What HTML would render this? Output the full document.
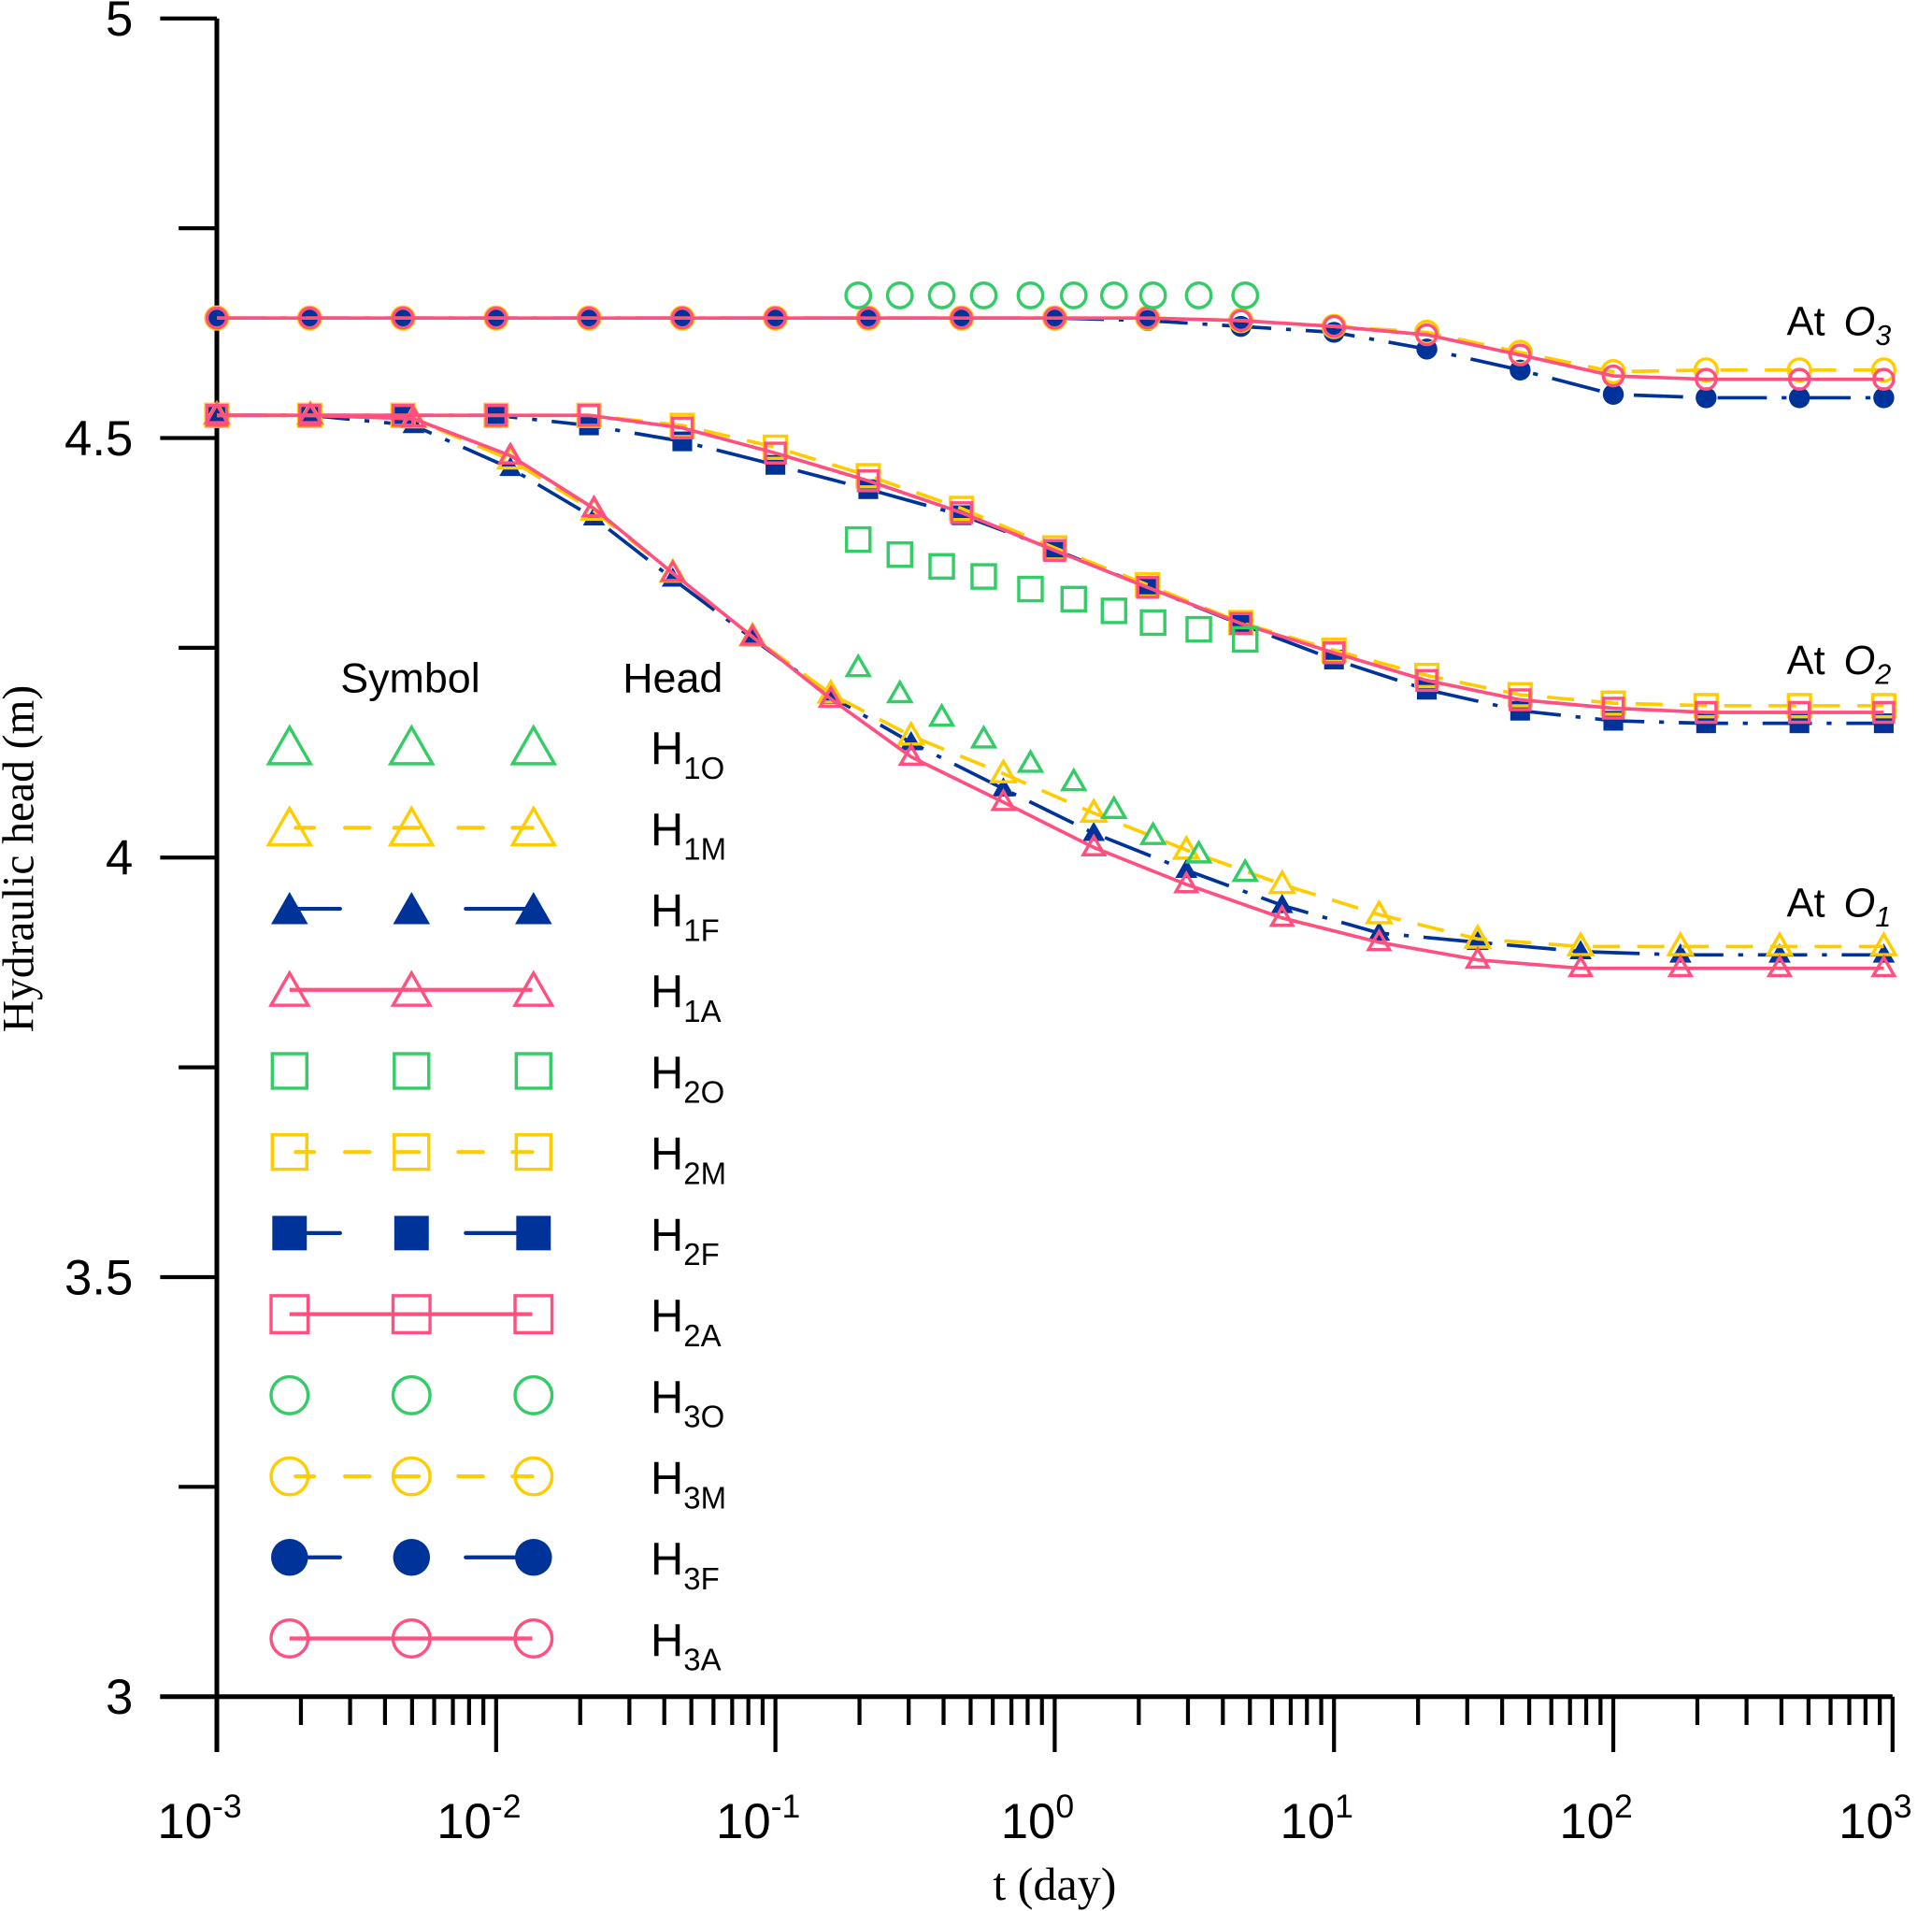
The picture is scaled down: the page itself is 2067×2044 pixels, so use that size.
<!DOCTYPE html>
<html><head><meta charset="utf-8"><style>
html,body{margin:0;padding:0;background:#fff}
svg{display:block}
text{font-family:"Liberation Sans",sans-serif}
text.serif{font-family:"Liberation Serif",serif}
</style></head><body>
<svg id="chart" width="2067" height="2044" viewBox="0 0 1568 1551" preserveAspectRatio="none" xmlns="http://www.w3.org/2000/svg"></svg>
<script>
// ---- data ----
const tGrid = [0.001,0.00215,0.00464,0.01,0.0215,0.0464,0.1,0.215,0.464,1,2.15,4.64,10,21.5,46.4,100,215,464,930];
const tH1 = [0.001,0.00216,0.00506,0.01125,0.0224,0.0429,0.0828,0.158,0.306,0.655,1.38,2.96,6.52,14.5,32.7,76.4,174,394,930];
const tObs = [0.198,0.279,0.394,0.557,0.819,1.17,1.63,2.25,3.28,4.81];
const h1O = [4.226,4.195,4.167,4.141,4.112,4.090,4.057,4.026,4.004,3.982];
const h1M = [4.527,4.527,4.523,4.474,4.413,4.339,4.263,4.195,4.145,4.100,4.053,4.009,3.968,3.932,3.903,3.894,3.894,3.894,3.894];
const h1F = [4.527,4.527,4.515,4.464,4.405,4.332,4.261,4.192,4.137,4.082,4.029,3.985,3.943,3.910,3.899,3.888,3.884,3.884,3.884];
const h1A = [4.527,4.527,4.523,4.479,4.416,4.339,4.263,4.189,4.120,4.066,4.012,3.968,3.928,3.899,3.878,3.868,3.868,3.868,3.868];
const h2O = [4.379,4.361,4.347,4.335,4.320,4.308,4.294,4.280,4.272,4.260];
const h2M = [4.527,4.527,4.527,4.527,4.527,4.515,4.489,4.455,4.416,4.369,4.325,4.280,4.247,4.217,4.194,4.184,4.181,4.181,4.181];
const h2F = [4.527,4.527,4.527,4.527,4.515,4.496,4.468,4.439,4.408,4.367,4.322,4.278,4.236,4.200,4.175,4.163,4.160,4.160,4.160];
const h2A = [4.527,4.527,4.527,4.527,4.527,4.512,4.482,4.449,4.411,4.366,4.322,4.279,4.244,4.211,4.188,4.178,4.173,4.173,4.173];
const h3O = [4.670,4.670,4.670,4.670,4.670,4.670,4.670,4.670,4.670,4.670];
const h3M = [4.643,4.643,4.643,4.643,4.643,4.643,4.643,4.643,4.643,4.643,4.643,4.640,4.633,4.626,4.602,4.579,4.581,4.581,4.581];
const h3F = [4.643,4.643,4.643,4.643,4.643,4.643,4.643,4.643,4.643,4.643,4.640,4.633,4.626,4.606,4.581,4.552,4.548,4.548,4.548];
const h3A = [4.643,4.643,4.643,4.643,4.643,4.643,4.643,4.643,4.643,4.643,4.643,4.640,4.633,4.623,4.599,4.574,4.570,4.570,4.570];
const yTicks = [3,3.25,3.5,3.75,4,4.25,4.5,4.75,5];
const yLabels = ["3","","3.5","","4","","4.5","","5"];
const xDecades = [-3,-2,-1,0,1,2,3];

// ---- scales ----
const X0=176,X1=1536,Y0=15,Y1=1377;
const xs=t=>X0+(Math.log10(t)+3)*(X1-X0)/6;
const ys=v=>Y0+(5-v)*(Y1-Y0)/2;
const svg=document.getElementById('chart');
const NS='http://www.w3.org/2000/svg';
function mk(tag,attrs,parent){const e=document.createElementNS(NS,tag);for(const k in attrs)e.setAttribute(k,attrs[k]);(parent||svg).appendChild(e);return e;}
const C={O:'#33CC66',M:'#FFCC00',F:'#003399',A:'#FF5080'};
const dash={M:'22 14',F:'40 12 4 12',A:'none'};

function marker(g,shape,cx,cy,s,color,filled){
  let e;
  const sw=filled?0:2.6;
  if(shape==='tri'){
    const h=s*0.87;
    e=mk('polygon',{points:`${cx},${cy-h*0.6} ${cx-s/2},${cy+h*0.4} ${cx+s/2},${cy+h*0.4}`},g);
  }else if(shape==='sq'){
    e=mk('rect',{x:cx-s/2,y:cy-s/2,width:s,height:s},g);
  }else{
    e=mk('circle',{cx:cx,cy:cy,r:s/2},g);
  }
  e.setAttribute('fill',filled?color:'none');
  e.setAttribute('stroke',filled?'none':color);
  e.setAttribute('stroke-width',sw);
  
  
}

// ---- axes ----
const ax=mk('g',{});


mk('line',{x1:X0,y1:Y0,x2:X0,y2:1422,stroke:'#000','stroke-width':3.8},ax);
mk('line',{x1:130,y1:Y1,x2:X1,y2:Y1,stroke:'#000','stroke-width':3.8},ax);
yTicks.forEach((v,i)=>{
  const y=ys(v);
  const l=mk('line',{x1:yLabels[i]?130:145,y1:y,x2:X0,y2:y,stroke:'#000','stroke-width':3.2},ax);
  
  
  if(yLabels[i]){
    const t=mk('text',{x:108,y:y+14,'text-anchor':'end','font-size':40},ax);
    t.textContent=yLabels[i];
    
    
  }
});
xDecades.forEach((d,i)=>{
  const x=xs(Math.pow(10,d));
  const l=mk('line',{x1:x,y1:Y1,x2:x,y2:1422,stroke:'#000','stroke-width':3.2},ax);
  
  
  const t=mk('text',{x:x-14,y:1492,'text-anchor':'middle','font-size':40},ax);
  t.innerHTML='10<tspan dy="-17" font-size="27">'+d+'</tspan>';
  
  
  if(i<xDecades.length-1){
    for(let m=2;m<=9;m++){
      const xm=xs(m*Math.pow(10,d));
      const ml=mk('line',{x1:xm,y1:Y1,x2:xm,y2:1400,stroke:'#000','stroke-width':3.2},ax);
      
      
    }
  }
});
const yt=mk('text',{x:0,y:0,'font-size':36,'text-anchor':'middle','class':'serif',transform:'translate(27,697) rotate(-90)'});
yt.textContent='Hydraulic head (m)';


const xt=mk('text',{x:856,y:1542,'font-size':38,'text-anchor':'middle','class':'serif'});
xt.textContent='t (day)';



// ---- series ----
function series(name,ts,vs,shape,kind,size){
  const g=mk('g',{});
  
  
  if(kind!=='O'){
    const pts=ts.map((t,i)=>xs(t)+','+ys(vs[i])).join(' ');
    const pl=mk('polyline',{points:pts,fill:'none',stroke:C[kind],'stroke-width':2.8},g);
    if(dash[kind]!=='none')pl.setAttribute('stroke-dasharray',dash[kind]);
    
    
  }
  ts.forEach((t,i)=>marker(g,shape,xs(t),ys(vs[i]),size,C[kind],kind==='F'));
}
series('h1F',tH1,h1F,'tri','F',18);
series('h2F',tGrid,h2F,'sq','F',16);
series('h3F',tGrid,h3F,'circle','F',17);
series('h1M',tH1,h1M,'tri','M',19);
series('h2M',tGrid,h2M,'sq','M',18);
series('h3M',tGrid,h3M,'circle','M',18);
series('h1A',tH1,h1A,'tri','A',17);
series('h2A',tGrid,h2A,'sq','A',16);
series('h3A',tGrid,h3A,'circle','A',16);
series('h1O',tObs,h1O,'tri','O',18);
series('h2O',tObs,h2O,'sq','O',19);
series('h3O',tObs,h3O,'circle','O',20);

// annotations
[['O3',272],['O2',547],['O1',744]].forEach(([o,y])=>{
  const t=mk('text',{x:1450,y:y,'font-size':33});
  t.innerHTML='At <tspan font-style="italic" dx="6">O</tspan><tspan font-style="italic" font-size="23" dy="8">'+o[1]+'</tspan>';
  
  
});

// ---- legend ----
const lg=mk('g',{});


const h1=mk('text',{x:333,y:562,'font-size':34,'text-anchor':'middle'},lg);h1.textContent='Symbol';


const h2=mk('text',{x:546,y:562,'font-size':34,'text-anchor':'middle'},lg);h2.textContent='Head';


const legendRows=[['1','O','tri'],['1','M','tri'],['1','F','tri'],['1','A','tri'],['2','O','sq'],['2','M','sq'],['2','F','sq'],['2','A','sq'],['3','O','circle'],['3','M','circle'],['3','F','circle'],['3','A','circle']];
legendRows.forEach((r,i)=>{
  const y=606+i*65.8;
  const g=mk('g',{},lg);
  
  
  const k=r[1];
  if(k==='M'){
    [[240,255],[280,300],[320,340],[372,392],[416,432]].forEach(s=>mk('line',{x1:s[0],y1:y,x2:s[1],y2:y,stroke:C.M,'stroke-width':3.2,'stroke-linecap':'round'},g));
  }else if(k==='F'){
    [[235,276],[378,432]].forEach(s=>mk('line',{x1:s[0],y1:y,x2:s[1],y2:y,stroke:C.F,'stroke-width':3.2,'stroke-linecap':'round'},g));
  }else if(k==='A'){
    mk('line',{x1:235,y1:y,x2:432,y2:y,stroke:C.A,'stroke-width':3.2},g);
  }
  const sz=r[2]==='tri'?(k==='O'||k==='M'?34:30):(r[2]==='sq'?(k==='A'?30:28):30);
  [235,334,433].forEach(x=>marker(g,r[2],x,y+(r[2]==='tri'?2:0),sz,C[k],k==='F'));
  const t=mk('text',{x:528,y:y+14,'font-size':37},g);
  t.innerHTML='H<tspan font-size="25" dy="12">'+r[0]+r[1]+'</tspan>';
});
</script>
</body></html>
